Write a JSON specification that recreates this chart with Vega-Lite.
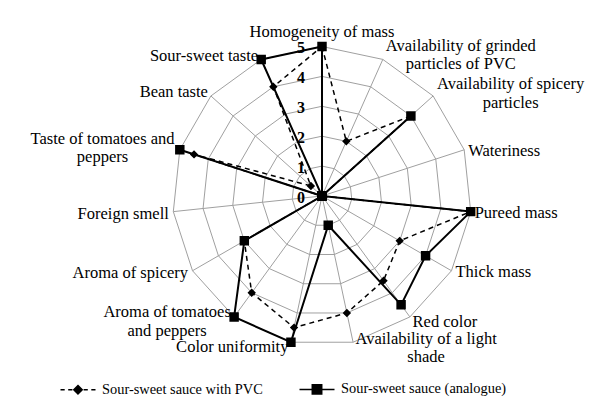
{
  "$schema": "https://vega.github.io/schema/vega-lite/v6.json",
  "width": 604,
  "height": 416,
  "autosize": "none",
  "padding": 0,
  "background": "white",
  "config": {"view": {"stroke": null}, "font": "Liberation Serif"},
  "datasets": {
    "scores": [
      {"axis": "Homogeneity of mass", "idx": 0, "series": "Sour-sweet sauce with PVC", "value": 5},
      {"axis": "Availability of grinded\nparticles of PVC", "idx": 1, "series": "Sour-sweet sauce with PVC", "value": 2},
      {"axis": "Availability of spicery\nparticles", "idx": 2, "series": "Sour-sweet sauce with PVC", "value": 4},
      {"axis": "Wateriness", "idx": 3, "series": "Sour-sweet sauce with PVC", "value": 0},
      {"axis": "Pureed mass", "idx": 4, "series": "Sour-sweet sauce with PVC", "value": 5},
      {"axis": "Thick mass", "idx": 5, "series": "Sour-sweet sauce with PVC", "value": 3},
      {"axis": "Red color", "idx": 6, "series": "Sour-sweet sauce with PVC", "value": 3.5},
      {"axis": "Availability of a light\nshade", "idx": 7, "series": "Sour-sweet sauce with PVC", "value": 4},
      {"axis": "Color uniformity", "idx": 8, "series": "Sour-sweet sauce with PVC", "value": 4.5},
      {"axis": "Aroma of tomatoes\nand peppers", "idx": 9, "series": "Sour-sweet sauce with PVC", "value": 4},
      {"axis": "Aroma of spicery", "idx": 10, "series": "Sour-sweet sauce with PVC", "value": 3},
      {"axis": "Foreign smell", "idx": 11, "series": "Sour-sweet sauce with PVC", "value": 0},
      {"axis": "Taste of tomatoes and\npeppers", "idx": 12, "series": "Sour-sweet sauce with PVC", "value": 4.5},
      {"axis": "Bean taste", "idx": 13, "series": "Sour-sweet sauce with PVC", "value": 0.5},
      {"axis": "Sour-sweet taste", "idx": 14, "series": "Sour-sweet sauce with PVC", "value": 4},
      {"axis": "Homogeneity of mass", "idx": 0, "series": "Sour-sweet sauce (analogue)", "value": 5},
      {"axis": "Availability of grinded\nparticles of PVC", "idx": 1, "series": "Sour-sweet sauce (analogue)", "value": 0},
      {"axis": "Availability of spicery\nparticles", "idx": 2, "series": "Sour-sweet sauce (analogue)", "value": 4},
      {"axis": "Wateriness", "idx": 3, "series": "Sour-sweet sauce (analogue)", "value": 0},
      {"axis": "Pureed mass", "idx": 4, "series": "Sour-sweet sauce (analogue)", "value": 5},
      {"axis": "Thick mass", "idx": 5, "series": "Sour-sweet sauce (analogue)", "value": 4},
      {"axis": "Red color", "idx": 6, "series": "Sour-sweet sauce (analogue)", "value": 4.5},
      {"axis": "Availability of a light\nshade", "idx": 7, "series": "Sour-sweet sauce (analogue)", "value": 1},
      {"axis": "Color uniformity", "idx": 8, "series": "Sour-sweet sauce (analogue)", "value": 5},
      {"axis": "Aroma of tomatoes\nand peppers", "idx": 9, "series": "Sour-sweet sauce (analogue)", "value": 5},
      {"axis": "Aroma of spicery", "idx": 10, "series": "Sour-sweet sauce (analogue)", "value": 3},
      {"axis": "Foreign smell", "idx": 11, "series": "Sour-sweet sauce (analogue)", "value": 0},
      {"axis": "Taste of tomatoes and\npeppers", "idx": 12, "series": "Sour-sweet sauce (analogue)", "value": 5},
      {"axis": "Bean taste", "idx": 13, "series": "Sour-sweet sauce (analogue)", "value": 0},
      {"axis": "Sour-sweet taste", "idx": 14, "series": "Sour-sweet sauce (analogue)", "value": 5}
    ],
    "levels": [
      {"level": 0}, {"level": 1}, {"level": 2}, {"level": 3}, {"level": 4}, {"level": 5}
    ]
  },
  "layer": [
    {
      "data": {"name": "scores"},
      "transform": [
        {"filter": "datum.series === 'Sour-sweet sauce with PVC'"},
        {"calculate": "[1,2,3,4,5]", "as": "ring"},
        {"flatten": ["ring"]},
        {"calculate": "datum.ring * sin(datum.idx * 2 * PI / 15)", "as": "x"},
        {"calculate": "datum.ring * cos(datum.idx * 2 * PI / 15)", "as": "y"}
      ],
      "mark": {"type": "line", "interpolate": "linear-closed", "stroke": "#a0a0a0", "strokeWidth": 1},
      "encoding": {
        "x": {"field": "x", "type": "quantitative", "scale": {"domain": [-10.769, 9.431], "zero": false, "nice": false}, "axis": null},
        "y": {"field": "y", "type": "quantitative", "scale": {"domain": [-7.358, 6.555], "zero": false, "nice": false}, "axis": null},
        "detail": {"field": "ring", "type": "nominal"},
        "order": {"field": "idx", "type": "quantitative"}
      }
    },
    {
      "data": {"name": "scores"},
      "transform": [
        {"filter": "datum.series === 'Sour-sweet sauce with PVC'"},
        {"calculate": "5 * sin(datum.idx * 2 * PI / 15)", "as": "x"},
        {"calculate": "5 * cos(datum.idx * 2 * PI / 15)", "as": "y"}
      ],
      "mark": {"type": "rule", "stroke": "#a0a0a0", "strokeWidth": 1},
      "encoding": {
        "x": {"field": "x", "type": "quantitative", "scale": {"domain": [-10.769, 9.431], "zero": false, "nice": false}, "axis": null},
        "y": {"field": "y", "type": "quantitative", "scale": {"domain": [-7.358, 6.555], "zero": false, "nice": false}, "axis": null},
        "x2": {"datum": 0},
        "y2": {"datum": 0}
      }
    },
    {
      "data": {"name": "scores"},
      "transform": [
        {"filter": "datum.series === 'Sour-sweet sauce (analogue)'"},
        {"calculate": "datum.value * sin(datum.idx * 2 * PI / 15)", "as": "x"},
        {"calculate": "datum.value * cos(datum.idx * 2 * PI / 15)", "as": "y"}
      ],
      "mark": {"type": "line", "interpolate": "linear-closed", "stroke": "black", "strokeWidth": 2},
      "encoding": {
        "x": {"field": "x", "type": "quantitative", "scale": {"domain": [-10.769, 9.431], "zero": false, "nice": false}, "axis": null},
        "y": {"field": "y", "type": "quantitative", "scale": {"domain": [-7.358, 6.555], "zero": false, "nice": false}, "axis": null},
        "order": {"field": "idx", "type": "quantitative"}
      }
    },
    {
      "data": {"name": "scores"},
      "transform": [
        {"filter": "datum.series === 'Sour-sweet sauce with PVC'"},
        {"calculate": "datum.value * sin(datum.idx * 2 * PI / 15)", "as": "x"},
        {"calculate": "datum.value * cos(datum.idx * 2 * PI / 15)", "as": "y"}
      ],
      "mark": {"type": "line", "interpolate": "linear-closed", "stroke": "black", "strokeWidth": 1.5, "strokeDash": [5, 4]},
      "encoding": {
        "x": {"field": "x", "type": "quantitative", "scale": {"domain": [-10.769, 9.431], "zero": false, "nice": false}, "axis": null},
        "y": {"field": "y", "type": "quantitative", "scale": {"domain": [-7.358, 6.555], "zero": false, "nice": false}, "axis": null},
        "order": {"field": "idx", "type": "quantitative"}
      }
    },
    {
      "data": {"name": "scores"},
      "transform": [
        {"calculate": "datum.value * sin(datum.idx * 2 * PI / 15)", "as": "x"},
        {"calculate": "datum.value * cos(datum.idx * 2 * PI / 15)", "as": "y"}
      ],
      "mark": {"type": "point", "filled": true, "fill": "black", "stroke": "black", "strokeWidth": 1.5, "opacity": 1, "size": 1225},
      "encoding": {
        "x": {"field": "x", "type": "quantitative", "scale": {"domain": [-10.769, 9.431], "zero": false, "nice": false}, "axis": null},
        "y": {"field": "y", "type": "quantitative", "scale": {"domain": [-7.358, 6.555], "zero": false, "nice": false}, "axis": null},
        "strokeOpacity": {"value": 0},
        "shape": {
          "field": "series", "type": "nominal",
          "scale": {
            "domain": ["Sour-sweet sauce with PVC", "Sour-sweet sauce (analogue)"],
            "range": [
              "M-1,0H-0.76M-0.56,0H-0.32M0.32,0H0.56M0.76,0H1M0,-0.24L0.24,0L0,0.24L-0.24,0Z",
              "M-1,0H1M-0.27,-0.27H0.27V0.27H-0.27Z"
            ]
          },
          "legend": {
            "orient": "none", "legendX": 59.5, "legendY": 370.5, "direction": "horizontal",
            "title": null, "padding": 0,
            "labelFont": "Liberation Serif", "labelFontSize": 14.4, "labelColor": "black", "labelLimit": 400,
            "labelOffset": 5.5, "columnPadding": 33, "symbolSize": 1225, "symbolStrokeWidth": 1.5
          }
        }
      }
    },
    {
      "data": {"name": "levels"},
      "mark": {"type": "text", "align": "right", "baseline": "middle", "dx": -17, "dy": 2, "font": "Liberation Serif", "fontSize": 16, "fontWeight": "bold", "color": "black"},
      "encoding": {
        "x": {"datum": 0, "type": "quantitative", "scale": {"domain": [-10.769, 9.431], "zero": false, "nice": false}, "axis": null},
        "y": {"field": "level", "type": "quantitative", "scale": {"domain": [-7.358, 6.555], "zero": false, "nice": false}, "axis": null},
        "text": {"field": "level", "type": "quantitative"}
      }
    },
    {
      "data": {"name": "scores"},
      "transform": [
        {"filter": "datum.series === 'Sour-sweet sauce with PVC'"},
        {"calculate": "5 * sin(datum.idx * 2 * PI / 15)", "as": "x"},
        {"calculate": "5 * cos(datum.idx * 2 * PI / 15)", "as": "y"}
      ],
      "encoding": {
        "x": {"field": "x", "type": "quantitative", "scale": {"domain": [-10.769, 9.431], "zero": false, "nice": false}, "axis": null},
        "y": {"field": "y", "type": "quantitative", "scale": {"domain": [-7.358, 6.555], "zero": false, "nice": false}, "axis": null},
        "text": {"field": "axis", "type": "nominal"}
      },
      "layer": [
        {"transform": [{"filter": "datum.idx === 0"}], "mark": {"type": "text", "align": "center", "baseline": "middle", "dy": -14.7, "fontSize": 16.5, "font": "Liberation Serif", "color": "black"}},
        {"transform": [{"filter": "indexof([3,4,5], datum.idx) >= 0"}], "mark": {"type": "text", "align": "left", "baseline": "middle", "dx": 4, "dy": 1, "fontSize": 16.5, "font": "Liberation Serif", "color": "black"}},
        {"transform": [{"filter": "datum.idx === 6"}], "mark": {"type": "text", "align": "left", "baseline": "middle", "dx": 2.7, "dy": 4.7, "fontSize": 16.5, "font": "Liberation Serif", "color": "black"}},
        {"transform": [{"filter": "indexof([10,11], datum.idx) >= 0"}], "mark": {"type": "text", "align": "right", "baseline": "middle", "dx": -4.5, "dy": 2, "fontSize": 16.5, "font": "Liberation Serif", "color": "black"}},
        {"transform": [{"filter": "indexof([13,14], datum.idx) >= 0"}], "mark": {"type": "text", "align": "right", "baseline": "middle", "dx": -3, "dy": -3.5, "fontSize": 16.5, "font": "Liberation Serif", "color": "black"}},
        {"transform": [{"filter": "datum.idx === 8"}], "mark": {"type": "text", "align": "right", "baseline": "middle", "dx": -2.5, "dy": 5, "fontSize": 16.5, "font": "Liberation Serif", "color": "black"}},
        {"transform": [{"filter": "datum.idx === 1"}], "mark": {"type": "text", "align": "center", "baseline": "middle", "dx": 78, "dy": -13.75, "lineBreak": "\n", "lineHeight": 18.5, "fontSize": 16.5, "font": "Liberation Serif", "color": "black"}},
        {"transform": [{"filter": "datum.idx === 2"}], "mark": {"type": "text", "align": "center", "baseline": "middle", "dx": 77.5, "dy": -11.95, "lineBreak": "\n", "lineHeight": 18.5, "fontSize": 16.5, "font": "Liberation Serif", "color": "black"}},
        {"transform": [{"filter": "datum.idx === 7"}], "mark": {"type": "text", "align": "center", "baseline": "middle", "dx": 73, "dy": -3.3, "lineBreak": "\n", "lineHeight": 18.5, "fontSize": 16.5, "font": "Liberation Serif", "color": "black"}},
        {"transform": [{"filter": "datum.idx === 9"}], "mark": {"type": "text", "align": "center", "baseline": "middle", "dx": -67, "dy": -4.75, "lineBreak": "\n", "lineHeight": 18.5, "fontSize": 16.5, "font": "Liberation Serif", "color": "black"}},
        {"transform": [{"filter": "datum.idx === 12"}], "mark": {"type": "text", "align": "center", "baseline": "middle", "dx": -77.3, "dy": -10.85, "lineBreak": "\n", "lineHeight": 18.5, "fontSize": 16.5, "font": "Liberation Serif", "color": "black"}}
      ]
    }
  ]
}
